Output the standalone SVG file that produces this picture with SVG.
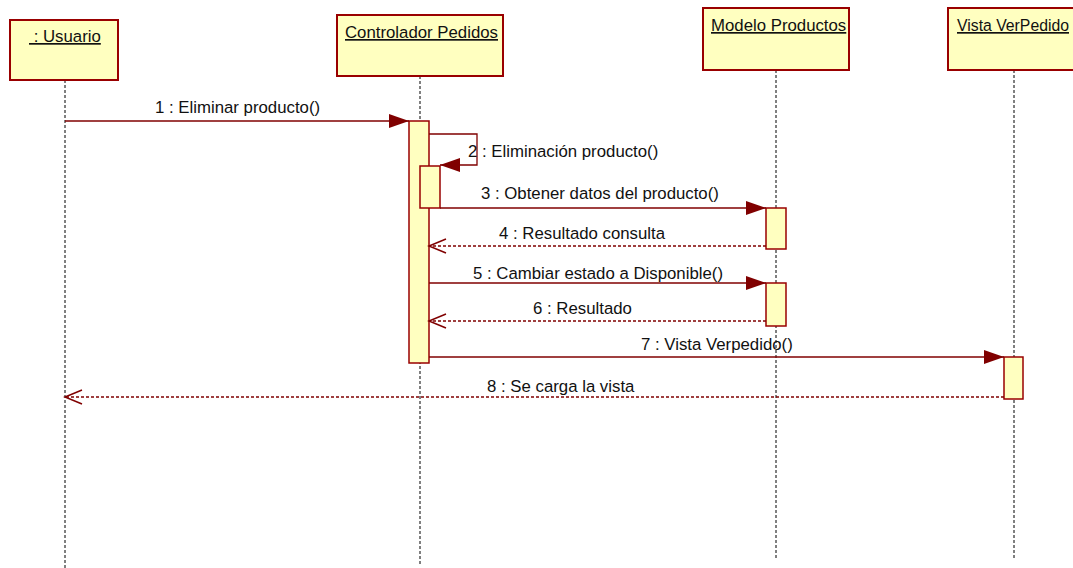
<svg xmlns="http://www.w3.org/2000/svg" width="1073" height="568" viewBox="0 0 1073 568">
<defs>
<style>
.box{fill:#ffffc0;stroke:#990000;stroke-width:2}
.act{fill:#ffffc0;stroke:#990000;stroke-width:1.5}
.life{stroke:#000;stroke-width:1;stroke-dasharray:3,2;fill:none}
.msg{stroke:#800000;stroke-width:1.3;fill:none}
.ret{stroke:#800000;stroke-width:1.3;fill:none;stroke-dasharray:3,2}
.t{font-family:"Liberation Sans",Arial,sans-serif;font-size:16.8px;fill:#111}
.n{font-family:"Liberation Sans",Arial,sans-serif;font-size:16.8px;fill:#111;text-decoration:underline}
</style>
<marker id="fa" markerWidth="22" markerHeight="14" refX="20" refY="7" orient="auto" markerUnits="userSpaceOnUse">
<path d="M0,0 L20,7 L0,14 Z" fill="#800000"/>
</marker>
<marker id="oa" markerWidth="22" markerHeight="16" refX="18" refY="8" orient="auto" markerUnits="userSpaceOnUse">
<path d="M1,1 L18,8 L1,15" fill="none" stroke="#800000" stroke-width="1.5"/>
</marker>
</defs>
<rect width="1073" height="568" fill="#fff"/>
<g id="lifelines">
<line class="life" x1="65" y1="80" x2="65" y2="568"/>
<line class="life" x1="420" y1="76" x2="420" y2="566"/>
<line class="life" x1="776" y1="70" x2="776" y2="558"/>
<line class="life" x1="1014" y1="70" x2="1014" y2="558"/>
</g>
<g id="usuario">
<rect class="box" x="10" y="20" width="108" height="60"/>
<text class="n" x="29" y="42" xml:space="preserve"> : Usuario</text>
</g>
<g id="controlador">
<rect class="box" x="337" y="15" width="166" height="61"/>
<text class="n" x="345" y="38">Controlador Pedidos</text>
</g>
<g id="modelo">
<rect class="box" x="703" y="8" width="146" height="62"/>
<text class="n" x="711" y="31">Modelo Productos</text>
</g>
<g id="vista">
<rect class="box" x="948" y="8" width="140" height="62"/>
<text class="n" x="957" y="31" textLength="112" lengthAdjust="spacingAndGlyphs">Vista VerPedido</text>
</g>
<g id="activations">
<rect class="act" x="409" y="121" width="20" height="242"/>
<rect class="act" x="420" y="166" width="20" height="42"/>
<rect class="act" x="766" y="208" width="20" height="41"/>
<rect class="act" x="766" y="283" width="20" height="43"/>
<rect class="act" x="1004" y="357" width="19" height="42"/>
</g>
<g id="connectors">
<line class="msg" x1="65" y1="121" x2="409" y2="121" marker-end="url(#fa)"/>
<polyline class="msg" points="429,134 477,134 477,165 440,165" marker-end="url(#fa)"/>
<line class="msg" x1="440" y1="208" x2="766" y2="208" marker-end="url(#fa)"/>
<line class="ret" x1="766" y1="246" x2="429" y2="246" marker-end="url(#oa)"/>
<line class="msg" x1="429" y1="283" x2="766" y2="283" marker-end="url(#fa)"/>
<line class="ret" x1="766" y1="321" x2="429" y2="321" marker-end="url(#oa)"/>
<line class="msg" x1="429" y1="357" x2="1004" y2="357" marker-end="url(#fa)"/>
<line class="ret" x1="1004" y1="397" x2="65" y2="397" marker-end="url(#oa)"/>
</g>
<g id="labels">
<text class="t" x="155" y="113">1 : Eliminar producto()</text>
<text class="t" x="468" y="157">2 : Eliminación producto()</text>
<text class="t" x="481" y="199">3 : Obtener datos del producto()</text>
<text class="t" x="499" y="239">4 : Resultado consulta</text>
<text class="t" x="473" y="279">5 : Cambiar estado a Disponible()</text>
<text class="t" x="533" y="314">6 : Resultado</text>
<text class="t" x="641" y="350">7 : Vista Verpedido()</text>
<text class="t" x="487" y="392">8 : Se carga la vista</text>
</g>
</svg>
